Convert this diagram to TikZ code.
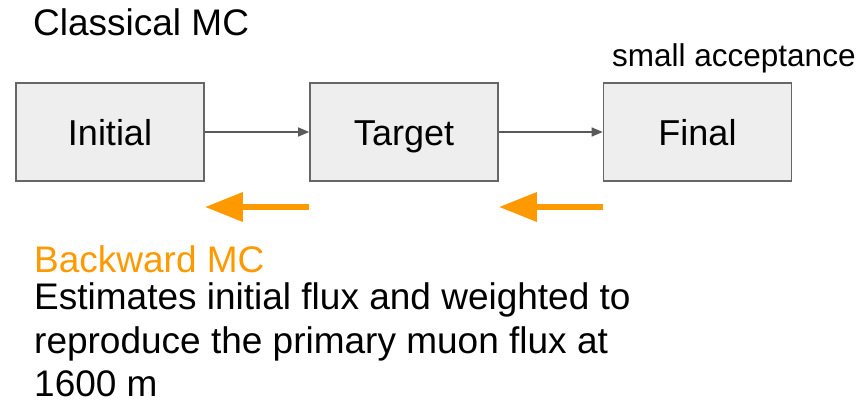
\documentclass[tikz,border=0pt]{standalone}
\usepackage{fontspec}
\setmainfont{Liberation Sans}
\usetikzlibrary{arrows.meta}
\definecolor{boxfill}{HTML}{EEEEEE}
\definecolor{boxline}{HTML}{666666}
\definecolor{flowline}{HTML}{595959}
\definecolor{backorange}{HTML}{FF9900}
\tikzset{
  stage/.style={draw=boxline, line width=1.6pt, fill=boxfill,
    minimum width=188pt, minimum height=98pt, inner sep=0pt,
    text height=26pt, text depth=0pt,
    font=\fontsize{36}{43}\selectfont},
  flow/.style={draw=flowline, line width=1.3pt,
    -{Triangle[length=11pt,width=9pt]}},
  backflow/.style={draw=backorange, line width=6.5pt,
    -{Triangle[length=38pt,width=28pt]}},
  bigtext/.style={anchor=base west, inner sep=0pt,
    font=\fontsize{37}{44}\selectfont},
}
\begin{document}
\begin{tikzpicture}[x=1pt, y=-1pt]
  \useasboundingbox (0,0) rectangle (867,402);

  % headings
  \node[bigtext] (classical) at (33,35) {Classical MC};
  \node[anchor=base west, inner sep=0pt, font=\fontsize{31.5}{36}\selectfont]
    (accept) at (612,66) {small acceptance};

  % stages
  \node[stage] (initial) at (110,132) {Initial};
  \node[stage] (target)  at (404,132) {Target};
  \node[stage] (final)   at (697.5,132) {Final};

  % forward flow
  \draw[flow] (initial) -- (target);
  \draw[flow] (target) -- (final);

  % backward flow
  \coordinate (b1s) at (target.west |- 0,207);
  \coordinate (b1e) at (initial.east |- 0,207);
  \coordinate (b2s) at (final.west |- 0,207);
  \coordinate (b2e) at (target.east |- 0,207);
  \draw[backflow] (b1s) -- (b1e);
  \draw[backflow] (b2s) -- (b2e);

  % description
  \node[bigtext, text=backorange] (backward) at (34,272) {Backward MC};
  \node[bigtext] (line1) at (34,309) {Estimates initial flux and weighted to};
  \node[bigtext] (line2) at (34,353) {reproduce the primary muon flux at};
  \node[bigtext, text depth=0pt] (line3) at (34,396) {1600 m};
\end{tikzpicture}
\end{document}
